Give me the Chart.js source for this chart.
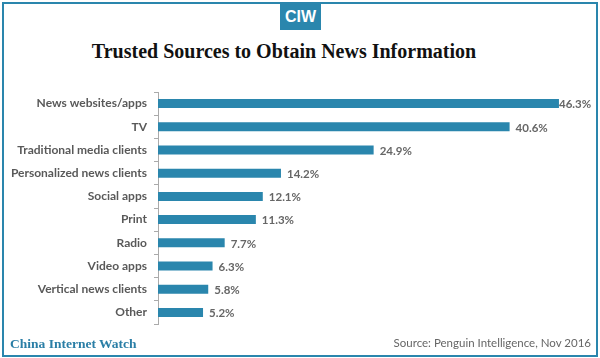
<!DOCTYPE html>
<html>
<head>
<meta charset="utf-8">
<script src="https://cdn.jsdelivr.net/npm/chart.js@4"></script>
<style>
  html, body { margin:0; padding:0; background:#fff; }
  #wrap { position:relative; width:600px; height:358px; overflow:hidden; background:#fff; }
  #frame { position:absolute; left:2px; top:2px; width:592px; height:351px; border:2px solid #2a86ad; }
  #logo { position:absolute; left:280px; top:3px; width:41px; height:27px; background:#2a86ad; color:#fff;
          font-family:"Liberation Sans Narrow","Liberation Sans",sans-serif; font-weight:bold; font-size:16px;
          line-height:27px; text-align:center; }
  #title { position:absolute; left:0; top:40px; width:568px; text-align:center;
           font-family:"Liberation Serif","DejaVu Serif",serif; font-weight:bold; font-size:20px; color:#111; }
  #brand { position:absolute; left:10px; top:336px; font-family:"Liberation Serif",serif; font-weight:bold;
           font-size:13.5px; color:#2a7ea6; }
  #source { position:absolute; right:9px; top:336px; font-family:Lato,"Open Sans",sans-serif; font-size:11.5px; color:#666; }
  canvas { position:absolute; left:0; top:0; }
</style>
</head>
<body>
<div id="wrap">
  <div id="frame"></div>
  <div id="logo">CIW</div>
  <div id="title">Trusted Sources to Obtain News Information</div>
  <canvas id="c" width="600" height="358"></canvas>
  <div id="brand">China Internet Watch</div>
  <div id="source">Source: Penguin Intelligence, Nov 2016</div>
</div>
<script>
const categories = ["News websites/apps","TV","Traditional media clients","Personalized news clients","Social apps","Print","Radio","Video apps","Vertical news clients","Other"];
const values = [46.3, 40.6, 24.9, 14.2, 12.1, 11.3, 7.7, 6.3, 5.8, 5.2];
const valueLabels = ["46.3%","40.6%","24.9%","14.2%","12.1%","11.3%","7.7%","6.3%","5.8%","5.2%"];

const barColor = "#2a86ad";

const valueLabelPlugin = {
  id: "valueLabels",
  afterDatasetsDraw(chart) {
    const ctx = chart.ctx;
    const meta = chart.getDatasetMeta(0);
    ctx.save();
    ctx.font = "bold 11.5px Lato, 'Open Sans', sans-serif";
    ctx.fillStyle = "#666";
    ctx.textBaseline = "middle";
    ctx.textAlign = "left";
    meta.data.forEach((bar, i) => {
      const txt = valueLabels[i];
      const w = ctx.measureText(txt).width;
      let x = bar.x + 6;
      if (x + w > chart.chartArea.right) x = Math.max(bar.x, chart.chartArea.right - w);
      ctx.fillText(txt, x, bar.y + 1);
    });
    ctx.restore();
  }
};

new Chart(document.getElementById("c"), {
  type: "bar",
  data: {
    labels: categories,
    datasets: [{
      data: values,
      backgroundColor: barColor,
      borderWidth: 0,
      barPercentage: 0.39,
      categoryPercentage: 1.0
    }]
  },
  options: {
    indexAxis: "y",
    responsive: false,
    animation: false,
    devicePixelRatio: 1,
    layout: { padding: { left: 0, right: 9, top: 92, bottom: 34 } },
    plugins: { legend: { display: false }, tooltip: { enabled: false } },
    scales: {
      x: { display: false, min: 0, max: 50 },
      y: {
        offset: true,
        grid: { display: true, offset: true, drawOnChartArea: false, drawTicks: true, tickLength: 4, color: "#aaa", lineWidth: 1 },
        border: { display: true, color: "#aaa", width: 1 },
        ticks: { color: "#595959", padding: 7, font: { family: "Lato, 'Open Sans', sans-serif", size: 12, weight: "bold" } },
        afterFit(scale) { scale.width = 158; }
      }
    }
  },
  plugins: [valueLabelPlugin]
});
</script>
</body>
</html>
